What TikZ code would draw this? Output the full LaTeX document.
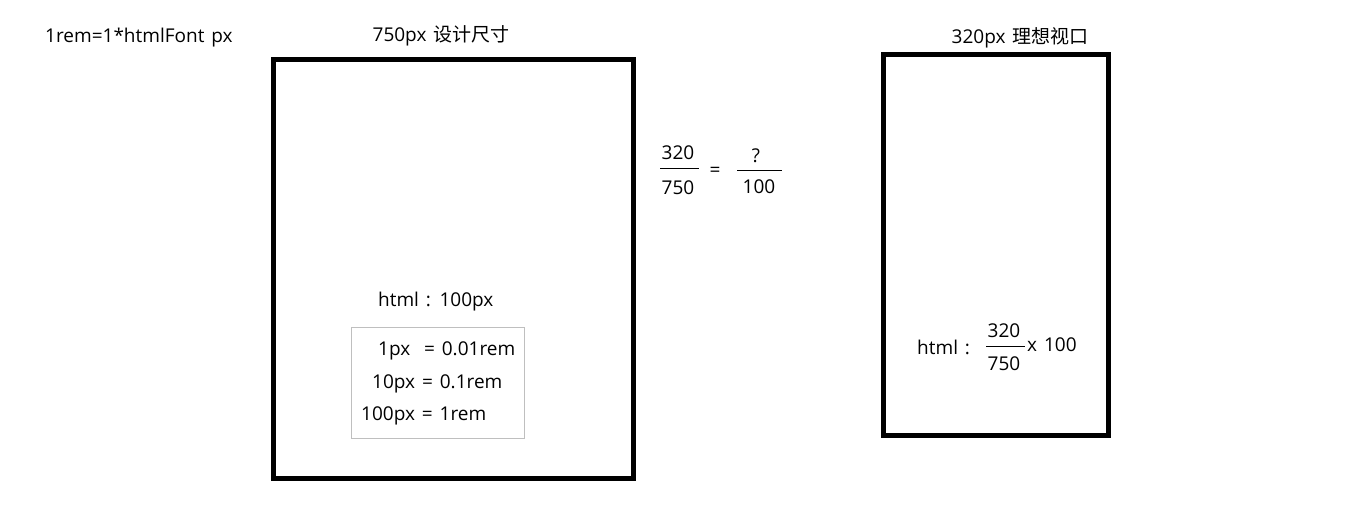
\documentclass[tikz,border=0pt]{standalone}
\usepackage{fontspec}
\setmainfont{Open Sans}[WordSpace=1.4]
\newfontfamily\cjk{Noto Sans CJK SC}
\tikzstyle{txt}=[inner sep=0pt,font=\fontsize{19}{22}\selectfont]
\tikzstyle{frame}=[draw,black,line width=5pt]
\tikzstyle{bar}=[line width=1pt]
\begin{document}
\begin{tikzpicture}[x=1pt,y=-1pt]
    \useasboundingbox (0,0) rectangle (1355,529);
    \node (rem)[txt,anchor=west] at (45,38) {1rem=1*htmlFont px};
    \node (design)[txt] at (441,36) {750px {\cjk 设计尺寸}};
    \node (ideal)[txt] at (1020,38) {320px {\cjk 理想视口}};
    \draw[frame] (273,60) rectangle (633,478);
    \draw[frame] (883,55) rectangle (1108,435);
    \node (html)[txt,anchor=west] at (378,302) {html : 100px};
    \draw[gray!50,line width=1pt] (351,328) rectangle (524,438);
    \node (px1)[txt,anchor=west] at (378,351) {1px\ \ = 0.01rem};
    \node (px10)[txt,anchor=west] at (372,384) {10px = 0.1rem};
    \node (px100)[txt,anchor=west] at (361,416) {100px = 1rem};
    \node (n320)[txt] at (678,153) {320};
    \node (n750)[txt] at (678,188) {750};
    \draw[bar] (660,169) -- (699,169);
    \node (eq)[txt] at (715,172) {=};
    \node (q)[txt] at (756,156) {?};
    \node (n100)[txt] at (759,187) {100};
    \draw[bar] (737,171) -- (782,171);
    \node (vhtml)[txt,anchor=west] at (917,347) {html :};
    \node (v320)[txt] at (1004,331) {320};
    \node (v750)[txt] at (1004,364) {750};
    \draw[bar] (986,347) -- (1025,347);
    \node (times)[txt,anchor=west] at (1027,345) {x 100};
\end{tikzpicture}
\end{document}
